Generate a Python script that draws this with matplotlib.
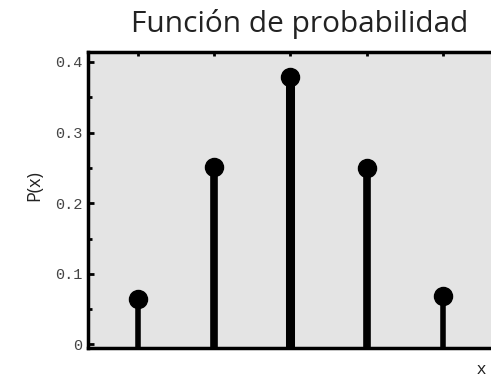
import matplotlib
matplotlib.use("Agg")
import matplotlib.pyplot as plt
from matplotlib.ticker import MultipleLocator

x_vals = [0, 1, 2, 3, 4]
p_vals = [0.064, 0.251, 0.378, 0.250, 0.068]
y_ticks = [0, 0.1, 0.2, 0.3, 0.4]
y_tick_labels = ["0", "0.1", "0.2", "0.3", "0.4"]
title = "Función de probabilidad"
stem_widths = [4.0, 5.5, 6.5, 5.5, 4.0]

fig = plt.figure(figsize=(4.91, 3.79), dpi=100)
ax = fig.add_axes([88/491, 1-348/379, 1-88/491, (348-52)/379])
ax.set_facecolor("#e4e4e4")

ax.set_xlim(-0.656, 4.63)
ax.set_ylim(-0.005, 0.414)
y_floor = ax.get_ylim()[0]

for xv, pv, lw in zip(x_vals, p_vals, stem_widths):
    ax.vlines(xv, y_floor, pv, colors="black", linewidth=lw, zorder=3)
ax.plot(x_vals, p_vals, "o", color="black", markersize=13, zorder=4)

for side in ["left", "top", "bottom"]:
    ax.spines[side].set_linewidth(2.5)
ax.spines["right"].set_visible(False)

ax.set_yticks(y_ticks)
ax.set_yticklabels(y_tick_labels, family="Liberation Mono", fontsize=11, color="#444444")
ax.yaxis.set_minor_locator(MultipleLocator(0.05))
ax.tick_params(axis="y", which="major", direction="in", length=4, width=2, pad=4)
ax.tick_params(axis="y", which="minor", direction="in", length=3, width=2)

ax.set_xticks(x_vals)
ax.tick_params(axis="x", which="both", bottom=False, top=True, labelbottom=False,
               direction="in", length=3, width=2)

fig.text(34/491, 1-186/379, "P(x)", family="Open Sans", fontsize=13, rotation=90,
         ha="center", va="center", color="#222222")
fig.text(481/491, 1-370/379, "x", family="Open Sans", fontsize=12.5, ha="center", va="center",
         color="#222222")
fig.text(300/491, 1-24/379, title, family="Open Sans", fontsize=21.5, ha="center", va="center",
         color="#222222")

fig.savefig("out.png", dpi=100)
